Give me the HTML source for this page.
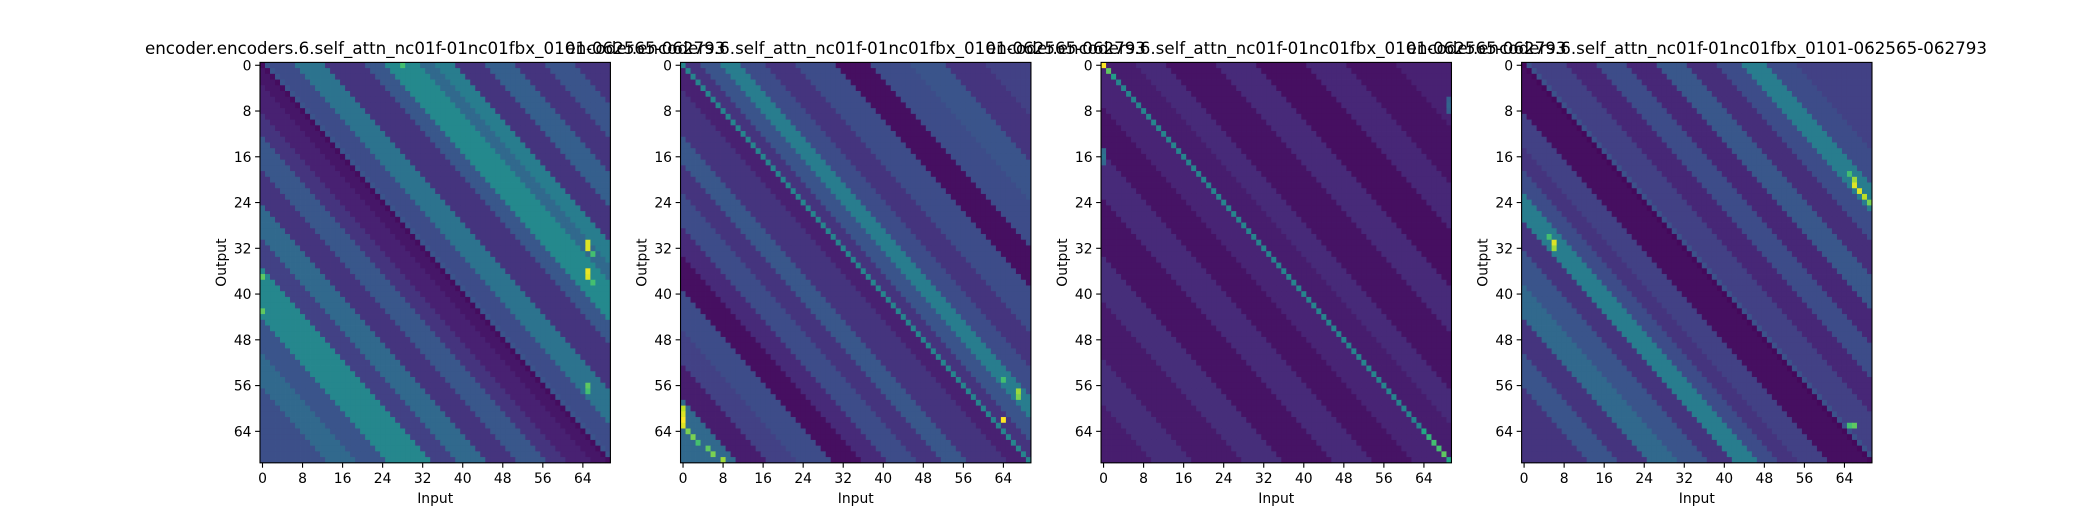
<!DOCTYPE html>
<html><head><meta charset="utf-8"><style>
html,body{margin:0;padding:0;background:#fff;}
svg{display:block;font-family:"DejaVu Sans","Liberation Sans",sans-serif;}
</style></head><body>
<svg id="fig" width="2080" height="520" viewBox="0 0 2080 520" xmlns="http://www.w3.org/2000/svg">
<rect width="2080" height="520" fill="#fff"/>
</svg>
<script>
// Diagonal-offset profiles as [value, runLength], from offset d=j-i = -69 up to +69
const profile1 = [[0.24,13],[0.34,6],[0.26,6],[0.46,9],[0.19,5],[0.34,6],[0.15,6],[0.27,6],[0.15,4],[0.09,5],[0.06,3],
  [0.03,1],[0.26,1],[0.23,5],[0.38,6],[0.15,8],[0.27,4],[0.47,7],[0.34,3],[0.42,4],[0.15,6],[0.3,6],[0.15,6],[0.26,6],[0.15,7]];
const profile2 = [[0.34,11],[0.08,6],[0.19,6],[0.23,7],[0.04,6],[0.12,5],[0.23,6],[0.15,5],[0.27,5],[0.15,8],[0.09,4],
  [0.45,1],[0.15,3],[0.26,4],[0.42,4],[0.23,5],[0.15,6],[0.23,8],[0.04,7],[0.23,8],[0.26,7],[0.15,8],[0.19,9]];
const profile3 = [[0.08,10],[0.13,8],[0.07,10],[0.13,8],[0.05,10],[0.12,8],[0.05,8],[0.1,7],
  [0.45,1],[0.08,6],[0.12,6],[0.05,10],[0.12,8],[0.04,10],[0.11,8],[0.05,10],[0.09,11]];
const profile4 = [[0.15,13],[0.26,6],[0.15,6],[0.34,6],[0.26,6],[0.15,5],[0.42,5],[0.23,4],[0.15,4],[0.19,6],[0.04,8],
  [0.02,1],[0.25,1],[0.19,7],[0.11,6],[0.23,6],[0.11,6],[0.27,6],[0.13,6],[0.23,5],[0.42,5],[0.23,6],[0.19,15]];
// Hotspot cells [row, col, value]
const hot1 = [[31,65,0.95],[32,65,0.95],[36,65,0.97],[37,65,0.95],[33,66,0.7],[38,66,0.7],[56,65,0.75],[57,65,0.7],[0,28,0.7],[37,0,0.75],[43,0,0.75]];
const hot2 = [[60,0,0.9],[61,0,0.95],[62,0,1.0],[63,0,0.95],[64,1,0.8],[65,2,0.8],[66,3,0.7],[67,5,0.75],[68,6,0.8],[69,8,0.85],[62,64,1.0],[57,67,0.85],[58,67,0.8],[55,64,0.7]];
const hot3 = [[0,0,1.0],[1,1,0.75],[2,2,0.55],[64,64,0.6],[65,65,0.65],[66,66,0.7],[67,67,0.7],[68,68,0.75],[69,69,0.6],[6,69,0.3],[7,69,0.32],[8,69,0.3],[15,0,0.35],[16,0,0.38],[17,0,0.33]];
const hot4 = [[19,65,0.7],[20,66,0.85],[21,66,0.95],[22,67,0.95],[23,68,0.9],[24,69,0.8],[30,5,0.7],[31,6,0.95],[32,6,0.85],[63,66,0.75],[63,65,0.7]];
const tickLabels = [0,8,16,24,32,40,48,56,64];
const titleText = "encoder.encoders.6.self_attn_nc01f-01nc01fbx_0101-062565-062793";
const N = 70;

const panels = [
  {profile:profile1, hot:hot1},
  {profile:profile2, hot:hot2},
  {profile:profile3, hot:hot3},
  {profile:profile4, hot:hot4}
];
const VIR = ["#440154","#482475","#414487","#355f8d","#2a788e","#21918c","#22a884","#44bf70","#7ad151","#bddf26","#fde725"];
function hex(h){return [parseInt(h.substr(1,2),16),parseInt(h.substr(3,2),16),parseInt(h.substr(5,2),16)];}
function viridis(t){t=Math.max(0,Math.min(1,t));const p=t*10;const i=Math.min(9,Math.floor(p));const f=p-i;
  const a=hex(VIR[i]),b=hex(VIR[i+1]);return "rgb("+a.map((v,k)=>Math.round(v+(b[k]-v)*f)).join(",")+")";}
function expand(runs){const out=[];runs.forEach(r=>{for(let k=0;k<r[1];k++)out.push(r[0]);});return out;}

const svg=document.getElementById('fig');
const NS="http://www.w3.org/2000/svg";
function mk(tag,attrs,parent){const e=document.createElementNS(NS,tag);for(const k in attrs)e.setAttribute(k,attrs[k]);(parent||svg).appendChild(e);return e;}

const axW=350.4, axH=400.4, axY=62.4, gap=70.13;
panels.forEach((p,pi)=>{
  const x0=260+pi*(axW+gap);
  const cw=axW/N, ch=axH/N;
  const xs=c=>x0+c*cw, ys=r=>axY+r*ch;
  const g=mk('g',{});
  
  
  const prof=expand(p.profile);
  const M=[];
  for(let r=0;r<N;r++){M.push([]);for(let c=0;c<N;c++){M[r].push(prof[(c-r)+69]);}}
  p.hot.forEach(h=>{M[h[0]][h[1]]=h[2];});
  for(let r=0;r<N;r++)for(let c=0;c<N;c++){
    const el=mk('rect',{x:xs(c).toFixed(2),y:ys(r).toFixed(2),width:(cw+0.4).toFixed(2),height:(ch+0.4).toFixed(2),fill:viridis(M[r][c])},g);
    
    
  }
  const fr=mk('rect',{x:x0,y:axY,width:axW,height:axH,fill:'none',stroke:'#000','stroke-width':1.1});
  
  
  tickLabels.forEach(v=>{
    const tx=xs(v+0.5);
    const tl=mk('line',{x1:tx,x2:tx,y1:axY+axH,y2:axY+axH+4.9,stroke:'#000','stroke-width':1.1});
    
    
    const t=mk('text',{x:tx,y:axY+axH+20,'font-size':13.9,'text-anchor':'middle',fill:'#000'});
    t.textContent=v;
    
    
    const ty=ys(v+0.5);
    const yl=mk('line',{x1:x0-4.9,x2:x0,y1:ty,y2:ty,stroke:'#000','stroke-width':1.1});
    
    
    const u=mk('text',{x:x0-8.5,y:ty+5,'font-size':13.9,'text-anchor':'end',fill:'#000'});
    u.textContent=v;
    
    
  });
  const xl=mk('text',{x:x0+axW/2,y:503,'font-size':13.9,'text-anchor':'middle',fill:'#000'});
  xl.textContent='Input';
  
  
  const yl=mk('text',{x:0,y:0,'font-size':13.9,'text-anchor':'middle',fill:'#000',transform:'translate('+(x0-34)+','+(axY+axH/2)+') rotate(-90)'});
  yl.textContent='Output';
  
  
  const tt=mk('text',{x:x0+axW/2,y:54,'font-size':16.7,'text-anchor':'middle',fill:'#000'});
  tt.textContent=titleText;
  
  
});
</script>
</body></html>
